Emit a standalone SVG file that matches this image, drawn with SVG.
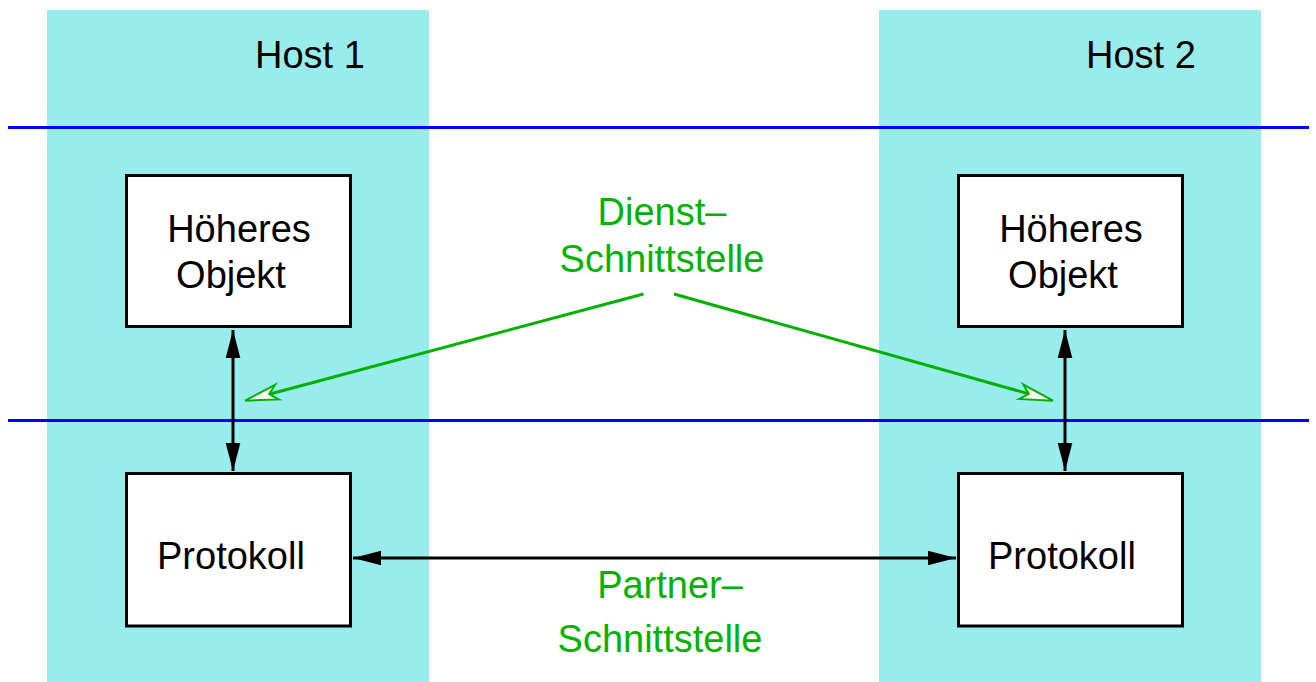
<svg xmlns="http://www.w3.org/2000/svg" width="1316" height="682" viewBox="0 0 1316 682">
  <style>
    .host { fill: #99ecec; }
    .layer { stroke: #0000ff; stroke-width: 3; fill: none; }
    .box { fill: #ffffff; stroke: #000000; stroke-width: 3; }
    .label { font-family: "Liberation Sans", Arial, sans-serif; font-size: 38px; fill: #000000; }
    .note { font-family: "Liberation Sans", Arial, sans-serif; font-size: 38px; fill: #00b200; text-anchor: middle; }
    .link { stroke: #000000; stroke-width: 3; fill: none; }
    .hint { stroke: #00b200; stroke-width: 3; fill: none; }
  </style>
  <defs>
    <marker id="solid" markerUnits="userSpaceOnUse" orient="auto-start-reverse" refX="0" refY="0" markerWidth="40" markerHeight="20" overflow="visible">
      <path d="M0,0 L-28,-7.3 L-28,7.3 Z" fill="#000000"/>
    </marker>
    <marker id="open" markerUnits="userSpaceOnUse" orient="auto" refX="-25" refY="0" markerWidth="40" markerHeight="20" overflow="visible">
      <path d="M0,0 L-33,-7.5 L-25,0 L-33,7.5 Z" fill="#ffffff" stroke="#00b200" stroke-width="2" stroke-linejoin="miter"/>
    </marker>
  </defs>

  <!-- host columns -->
  <g id="host1">
    <rect class="host" x="47" y="10" width="382" height="672"/>
    <text class="label" x="255" y="68">Host 1</text>
  </g>
  <g id="host2">
    <rect class="host" x="879" y="10" width="382" height="672"/>
    <text class="label" x="1086" y="68">Host 2</text>
  </g>

  <!-- layer boundaries -->
  <g id="layers">
    <line class="layer" x1="8" y1="127.5" x2="1309" y2="127.5"/>
    <line class="layer" x1="8" y1="420.5" x2="1309" y2="420.5"/>
  </g>

  <g id="obj1">
    <rect class="box" x="126.5" y="175.5" width="224" height="151"/>
    <text class="label" x="239" y="242" text-anchor="middle">Höheres</text>
    <text class="label" x="231" y="288" text-anchor="middle">Objekt</text>
  </g>
  <g id="proto1">
    <rect class="box" x="126.5" y="473.5" width="224" height="152.5"/>
    <text class="label" x="157" y="569">Protokoll</text>
  </g>
  <g id="obj2">
    <rect class="box" x="958.5" y="175.5" width="224" height="151"/>
    <text class="label" x="1071" y="242" text-anchor="middle">Höheres</text>
    <text class="label" x="1063" y="288" text-anchor="middle">Objekt</text>
  </g>
  <g id="proto2">
    <rect class="box" x="958.5" y="473.5" width="224" height="152.5"/>
    <text class="label" x="988" y="569">Protokoll</text>
  </g>

  <g id="service-label">
    <text class="note" x="662" y="225">Dienst–</text>
    <text class="note" x="662" y="272">Schnittstelle</text>
  </g>
  <g id="peer-label">
    <text class="note" x="670" y="598">Partner–</text>
    <text class="note" x="660" y="652">Schnittstelle</text>
  </g>

  <!-- connectors -->
  <g id="connectors">
    <line class="link" x1="233" y1="330" x2="233" y2="471" marker-start="url(#solid)" marker-end="url(#solid)"/>
    <line class="link" x1="1065" y1="330" x2="1065" y2="471" marker-start="url(#solid)" marker-end="url(#solid)"/>
    <line class="link" x1="353" y1="558" x2="956" y2="558" marker-start="url(#solid)" marker-end="url(#solid)"/>
    <line class="hint" x1="643.5" y1="294" x2="269.2" y2="394.2" marker-end="url(#open)"/>
    <line class="hint" x1="674" y1="294" x2="1028.9" y2="393.9" marker-end="url(#open)"/>
  </g>
</svg>
